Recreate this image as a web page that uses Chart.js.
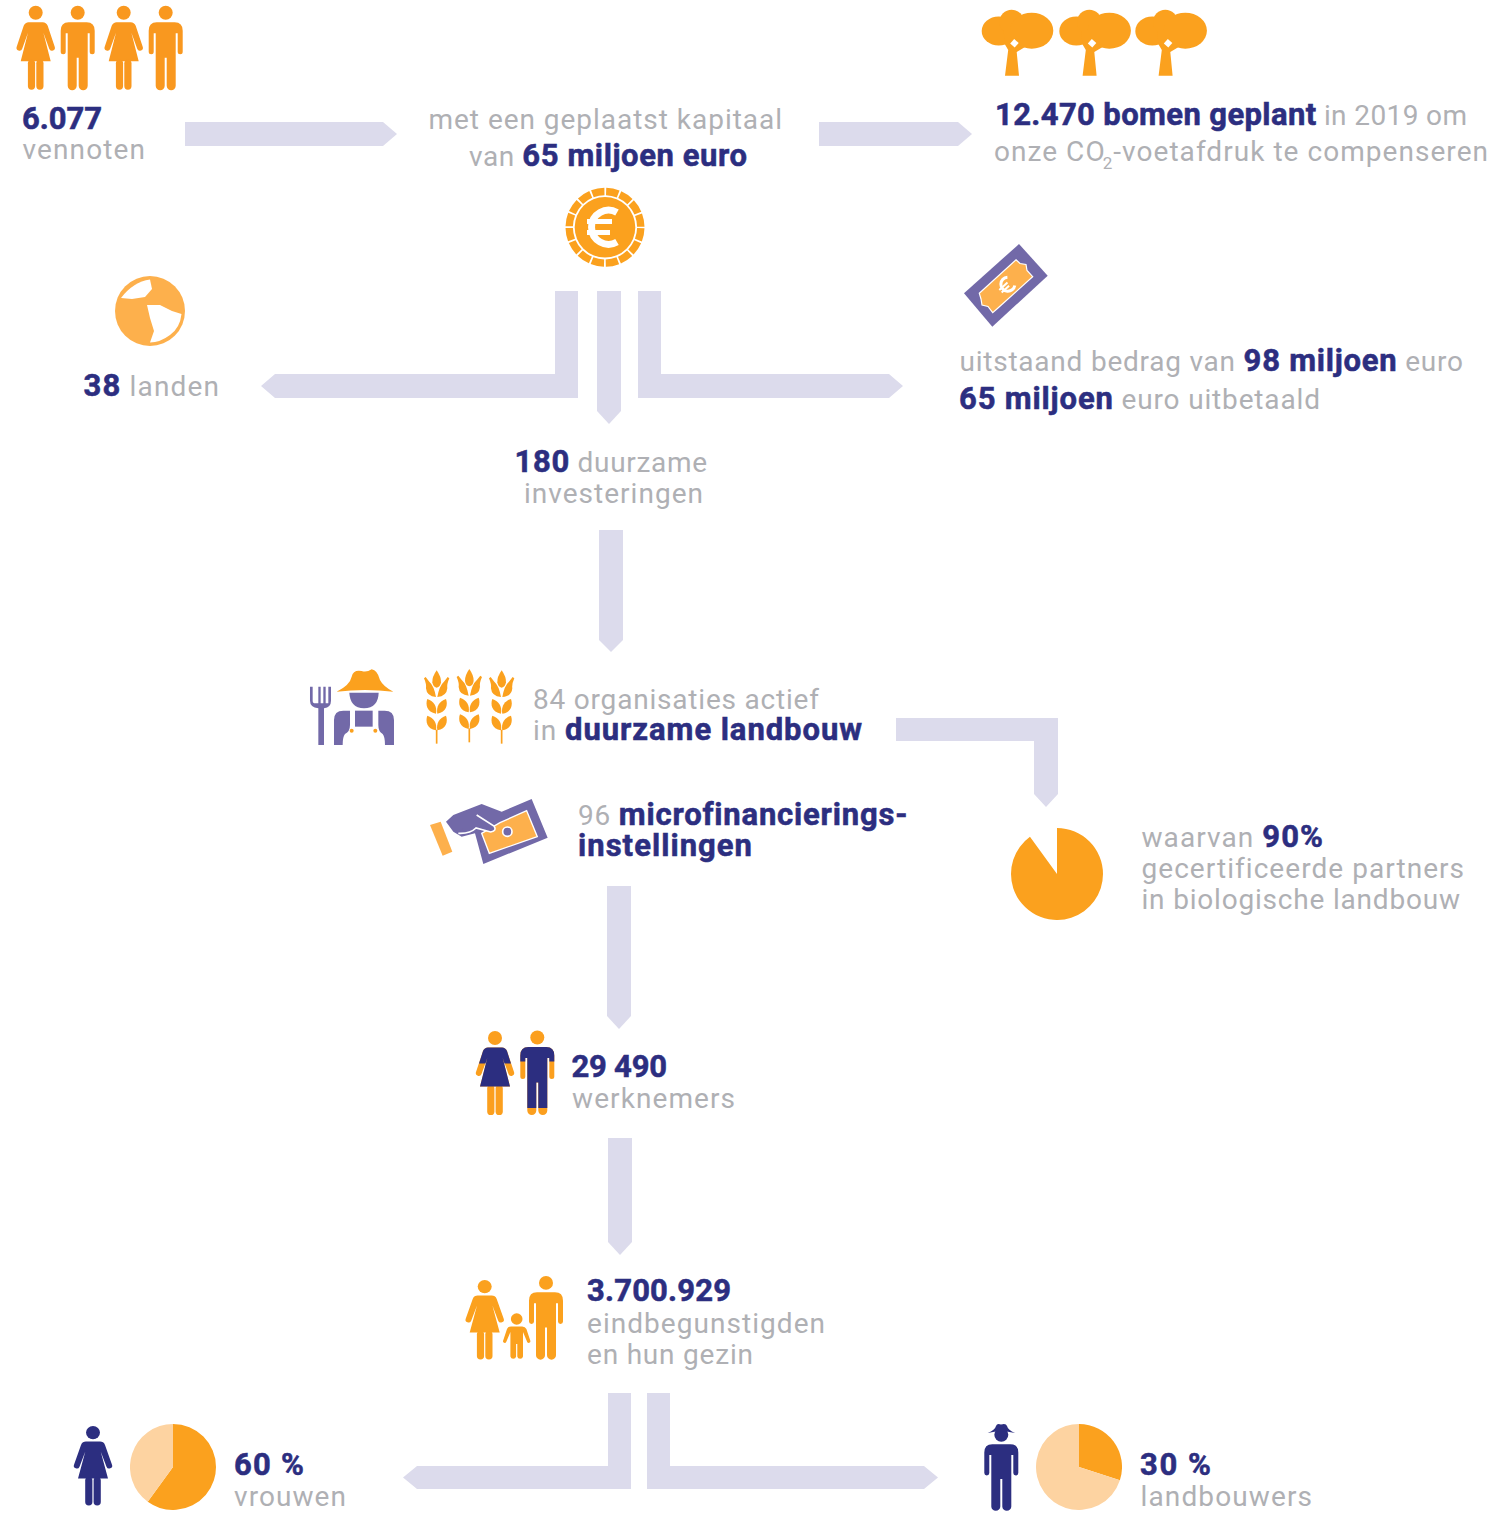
<!DOCTYPE html>
<html lang="nl">
<head>
<meta charset="utf-8">
<title>Infographic</title>
<script src="https://cdn.jsdelivr.net/npm/chart.js@4"></script>
<style>
html,body{margin:0;padding:0;background:#fff}
#stage{position:relative;width:1493px;height:1515px;overflow:hidden}
#art{position:absolute;left:0;top:0}
canvas{position:absolute;display:block}
text{font-family:Roboto,sans-serif;white-space:pre}
.g{fill:#afb0b4;font-weight:400;font-size:28px}
.b{fill:#2c2e80;font-weight:700;font-size:31px;stroke:#2c2e80;stroke-width:.55px}
</style>
</head>
<body>
<div id="stage">
<svg id="art" width="1493" height="1515" viewBox="0 0 1493 1515" xmlns="http://www.w3.org/2000/svg">
<defs>
<g id="woman"><circle cx="0" cy="7" r="7"/><path d="M-7,16.5H7Q10.5,16.5 12,20L19,41A2.9,2.900 0 0 1 13.500,43L7.700,27L15,55.500H-15L-7.700,27L-13.500,43A2.900,2.900 0 0 1 -19,41L-12,20Q-10.500,16.500 -7,16.500Z"/><rect x="-7.800" y="54" width="7.200" height="30" rx="3.600"/><rect x=".6" y="54" width="7.200" height="30" rx="3.600"/></g>
<g id="man"><circle cx="0" cy="7" r="7"/><path d="M-9,16.500H9Q17,16.500 17,25V46A2.500,2.500 0 0 1 12,46V27.500H10V80A4.400,4.400 0 0 1 1,80V52H-1V80A4.400,4.400 0 0 1 -10,80V27.500H-12V46A2.500,2.500 0 0 1 -17,46V25Q-17,16.500 -9,16.500Z"/></g>
<g id="tree"><ellipse cx="17" cy="31" rx="17" ry="14.500"/><circle cx="30" cy="22" r="12.300"/><ellipse cx="50" cy="30.700" rx="21.600" ry="18"/><path d="M22,30H45V46L35,52L37.300,75.700H23.300L26.500,50L23,44Z"/><path d="M32.500,39L37,43L33,47.500L28.500,43.500Z" fill="#fff"/></g>
<g id="wheat">
<path d="M0,-2Q14,18 13,34Q11,48 0,50Q-11,48 -13,34Q-14,18 0,-2Z"/>
<path d="M-38,22L-33,18L-22,32Q-8,44 -2,78Q-30,76 -32,52Q-30,40 -38,22Z"/>
<path d="M38,22L33,18L22,32Q8,44 2,78Q30,76 32,52Q30,40 38,22Z"/>
<path d="M-2,128C-30,124 -34,100 -28,84C-8,90 2,108 -2,128Z"/>
<path d="M2,128C30,124 34,100 28,84C8,90 -2,108 2,128Z"/>
<path d="M-2,178C-30,174 -34,150 -28,134C-8,140 2,158 -2,178Z"/>
<path d="M2,178C30,174 34,150 28,134C8,140 -2,158 2,178Z"/>
<rect x="-2.500" y="176" width="5" height="42"/>
</g>
</defs>

<g fill="#dcdbec">
<polygon points="185,122 383,122 397,134 383,146 185,146"/>
<polygon points="819,122 958,122 972,134 958,146 819,146"/>
<polygon points="555,291 578,291 578,398 275,398 261,386 275,374 555,374"/>
<polygon points="597,291 621,291 621,411 609,424 597,411"/>
<polygon points="638,291 661,291 661,374 889,374 903,386 889,398 638,398"/>
<polygon points="599,530 623,530 623,640 611,652 599,640"/>
<polygon points="896,718 1058,718 1058,794 1046,807 1034,794 1034,741 896,741"/>
<polygon points="607,886 631,886 631,1016 619,1029 607,1016"/>
<polygon points="608,1138 632,1138 632,1242 620,1255 608,1242"/>
<polygon points="608,1393 631,1393 631,1489 417,1489 403,1477.500 417,1466 608,1466"/>
<polygon points="647,1393 670,1393 670,1466 924,1466 938,1477.500 924,1489 647,1489"/>
</g>

<g fill="#f9981f">
<use href="#woman" transform="translate(35.700,5.700)"/>
<use href="#man" transform="translate(77.700,5.700)"/>
<use href="#woman" transform="translate(123.700,5.700)"/>
<use href="#man" transform="translate(165.700,5.700)"/>
</g>
<g fill="#fba11e">
<use href="#tree" transform="translate(981.700,0)"/>
<use href="#tree" transform="translate(1059.300,0)"/>
<use href="#tree" transform="translate(1135.300,0)"/>
</g>

<!-- coin -->
<circle cx="605" cy="227.300" r="30.300" fill="#fba11e"/>
<circle cx="605" cy="227.300" r="35.800" fill="none" stroke="#fba11e" stroke-width="7.400" stroke-dasharray="12.300 1.760" stroke-dashoffset="-.88"/>
<path d="M617,212.500A17,17 0 1 0 617,242" fill="none" stroke="#fff" stroke-width="7"/>
<path d="M587,221.500H612M587,232.500H610" fill="none" stroke="#fff" stroke-width="5"/>

<!-- globe -->
<circle cx="150" cy="311" r="35" fill="#fdb04c"/>
<path d="M121,298Q133,282 150,279.500L152,289L145,297L132,299Z" fill="#fff"/>
<path d="M147,305L160,305L172,311L181.500,314Q180,328 170,335Q160,342.500 150,342.500L154,331L150,318Z" fill="#fff"/>

<!-- banknote -->
<polygon points="1019,244 1047.700,275.700 992.300,326.700 964,293.300" fill="#7269a8"/>
<polygon points="1016,259.700 1020,263.500 1026,264.500 1027,270.500 1032.700,276.700 998,308 992.700,312.700 988,306.500 982,305 981,299 979.300,293.300" fill="#fdb04c" stroke="#fff" stroke-width="1.200"/>
<g transform="rotate(-42 1007 285)"><path d="M1012.500,279.500A7,7 0 1 0 1012.500,290.500" fill="none" stroke="#fff" stroke-width="3"/><path d="M998,283.500H1009M998,287H1008" fill="none" stroke="#fff" stroke-width="2"/></g>

<!-- farmer -->
<g transform="translate(300,660) scale(.3333)">
<g fill="#7269a8">
<rect x="55" y="135" width="17" height="120"/>
<path d="M30,80H38V122Q38,130 46,130H55V80H62V130H70V80H77V130H85V80H93V122Q93,142 72,145H55Q30,142 30,122Z"/>
<path d="M148,98H236Q235,143 192,145Q150,143 148,98Z"/>
<path d="M102,255V180Q102,152 130,152H150V195Q150,215 135,222Q128,230 128,255Z"/>
<path d="M282,255V180Q282,152 254,152H235V195Q235,215 248,222Q255,230 255,255Z"/>
<rect x="165" y="152" width="53" height="48"/>
</g>
<g fill="#fba11e">
<path d="M110,95Q150,75 155,50Q160,28 185,33Q200,38 215,28Q232,30 240,60Q250,80 280,95Q195,85 110,95Z"/>
<circle cx="155" cy="212" r="6"/><circle cx="226" cy="212" r="6"/>
<use href="#wheat" transform="translate(410,33)"/>
<use href="#wheat" transform="translate(508,29)"/>
<use href="#wheat" transform="translate(605,33)"/>
</g>
</g>

<!-- hand with note -->
<g transform="translate(420,790) scale(.3333)">
<polygon points="30,105 62,95 97,185 68,197" fill="#fdb04c"/>
<path d="M78,95L100,75L185,42L245,65L335,27L383,143L190,222L165,130L125,140L100,125Z" fill="#7269a8"/>
<polygon points="320,62 352,140 208,190 185,130 240,98" fill="#fdb04c" stroke="#fff" stroke-width="4"/>
<path d="M170,75L222,108Q232,122 212,126L168,114L150,128Q130,136 115,130L130,115Z" fill="#7269a8"/>
<path d="M170,75L222,108Q232,122 212,126L168,114Q150,132 115,130" fill="none" stroke="#fff" stroke-width="5"/>
<circle cx="262" cy="125" r="14" fill="#7269a8" stroke="#fff" stroke-width="5"/>
</g>

<!-- staff -->
<use href="#woman" fill="#fb9f1e" transform="translate(495,1031)"/>
<path fill="#2c2e80" transform="translate(495,1031)" d="M-7,16.500H7Q10.500,16.500 12,20L16,32.500H9.500L7.700,27L15,55.500H-15L-7.700,27L-9.500,32.500H-16L-12,20Q-10.500,16.500 -7,16.500Z"/>
<use href="#man" fill="#fb9f1e" transform="translate(537.300,1030.500)"/>
<path fill="#2c2e80" transform="translate(537.300,1030.500)" d="M-9,16.500H9Q17,16.500 17,25V31H12V27.500H10V77.500H1V52H-1V77.500H-10V27.500H-12V31H-17V25Q-17,16.500 -9,16.500Z"/>

<!-- family -->
<g fill="#fba11e">
<use href="#woman" transform="translate(484.700,1280) scale(1,.945)"/>
<use href="#man" transform="translate(546,1276) scale(1,.99)"/>
<g transform="translate(516.700,1313)">
<circle cx="0" cy="6" r="5.800"/>
<path d="M-5.500,13.500H5.500Q8.500,13.500 9.700,16L13.700,28A1.700,1.700 0 0 1 10.500,29L6.300,19V43.500A2.900,2.900 0 0 1 .6,43.500V31H-.6V43.500A2.900,2.900 0 0 1 -6.300,43.500V19L-10.500,29A1.700,1.700 0 0 1 -13.700,28L-9.700,16Q-8.500,13.500 -5.500,13.500Z"/>
</g>
</g>

<!-- bottom figures -->
<use href="#woman" fill="#2c2e80" transform="translate(93,1426) scale(1,.945)"/>
<use href="#man" fill="#2c2e80" transform="translate(1001.300,1428) scale(1,.98)"/>
<path fill="#2c2e80" d="M987.700,1433Q995,1430 996,1426Q997,1423 1001,1424.500Q1006,1423 1007,1426Q1008,1430 1015,1433Q1001,1429.500 987.700,1433Z"/>

<g id="copy"></g>
</svg>
<canvas id="pieCertified" width="92" height="92" style="left:1011px;top:828px"></canvas>
<canvas id="pieWomen" width="86" height="86" style="left:130px;top:1424px"></canvas>
<canvas id="pieFarmers" width="86" height="86" style="left:1036px;top:1424px"></canvas>
</div>
<script>
// chart values
const certifiedLabels = ["gecertificeerd", "overig"];
const certifiedValues = [90, 10];
const womenLabels = ["vrouwen", "overig"];
const womenValues = [60, 40];
const farmerLabels = ["landbouwers", "overig"];
const farmerValues = [30, 70];

const ORANGE = "#fba11e", PALE = "#fdd3a1";
function pie(id, labels, values, colors) {
  new Chart(document.getElementById(id), {
    type: "pie",
    data: { labels, datasets: [{ data: values, backgroundColor: colors, borderWidth: 0 }] },
    options: { responsive: false, animation: false, layout: { padding: 0 },
      plugins: { legend: { display: false }, tooltip: { enabled: false } } }
  });
}
pie("pieCertified", certifiedLabels, certifiedValues, [ORANGE, "rgba(0,0,0,0)"]);
pie("pieWomen", womenLabels, womenValues, [ORANGE, PALE]);
pie("pieFarmers", farmerLabels, farmerValues, [ORANGE, PALE]);

// text lines: left edge, baseline, width, runs ("b" bold navy, "g" grey, "s" subscript)
const copy = [
 [22,129,80,[["b","6.077"]]],
 [22.5,159,122.5,[["g","vennoten"]]],
 [428.5,129,353.5,[["g","met een geplaatst kapitaal"]]],
 [469,166,278,[["g","van "],["b","65 miljoen euro"]]],
 [995,125,472,[["b","12.470 bomen geplant"],["g"," in 2019 om"]]],
 [994,161,497,[["g","onze CO"],["s","2"],["g","-voetafdruk te compenseren"]]],
 [83.5,396,135.5,[["b","38"],["g"," landen"]]],
 [959.5,371,503.5,[["g","uitstaand bedrag van "],["b","98 miljoen"],["g"," euro"]]],
 [959,409,361,[["b","65 miljoen"],["g"," euro uitbetaald"]]],
 [514.5,472,192.5,[["b","180"],["g"," duurzame"]]],
 [524,503,179,[["g","investeringen"]]],
 [533,709,286,[["g","84 organisaties actief"]]],
 [533,740,329,[["g","in "],["b","duurzame landbouw"]]],
 [578,825,329,[["g","96 "],["b","microfinancierings-"]]],
 [578,856,174,[["b","instellingen"]]],
 [1141.5,847,181.5,[["g","waarvan "],["b","90%"]]],
 [1141.5,878,321.5,[["g","gecertificeerde partners"]]],
 [1141.5,909,318.5,[["g","in biologische landbouw"]]],
 [571.5,1077,95.5,[["b","29 490"]]],
 [572,1108,163,[["g","werknemers"]]],
 [587,1301,144,[["b","3.700.929"]]],
 [587,1333,238,[["g","eindbegunstigden"]]],
 [587,1364,166,[["g","en hun gezin"]]],
 [234,1475,70,[["b","60 %"]]],
 [234,1506,112,[["g","vrouwen"]]],
 [1140,1475,71,[["b","30 %"]]],
 [1140.5,1506,171.5,[["g","landbouwers"]]]
];
const NS = "http://www.w3.org/2000/svg", host = document.getElementById("copy");
for (const [x, y, w, runs] of copy) {
  const t = document.createElementNS(NS, "text");
  t.setAttribute("x", x); t.setAttribute("y", y);
  let after = false, n = 0;
  for (const [kind, str] of runs) {
    const s = document.createElementNS(NS, "tspan");
    s.textContent = str; n += str.length;
    if (kind === "s") { s.setAttribute("class", "g"); s.setAttribute("dy", 8); s.setAttribute("dx", -3); s.style.fontSize = "17px"; after = true; }
    else { s.setAttribute("class", kind); if (after) { s.setAttribute("dy", -8); after = false; } }
    t.appendChild(s);
  }
  host.appendChild(t);
  const spare = (w - t.getComputedTextLength()) / (n - 1);
  t.style.letterSpacing = spare.toFixed(3) + "px";
}
</script>
</body>
</html>
